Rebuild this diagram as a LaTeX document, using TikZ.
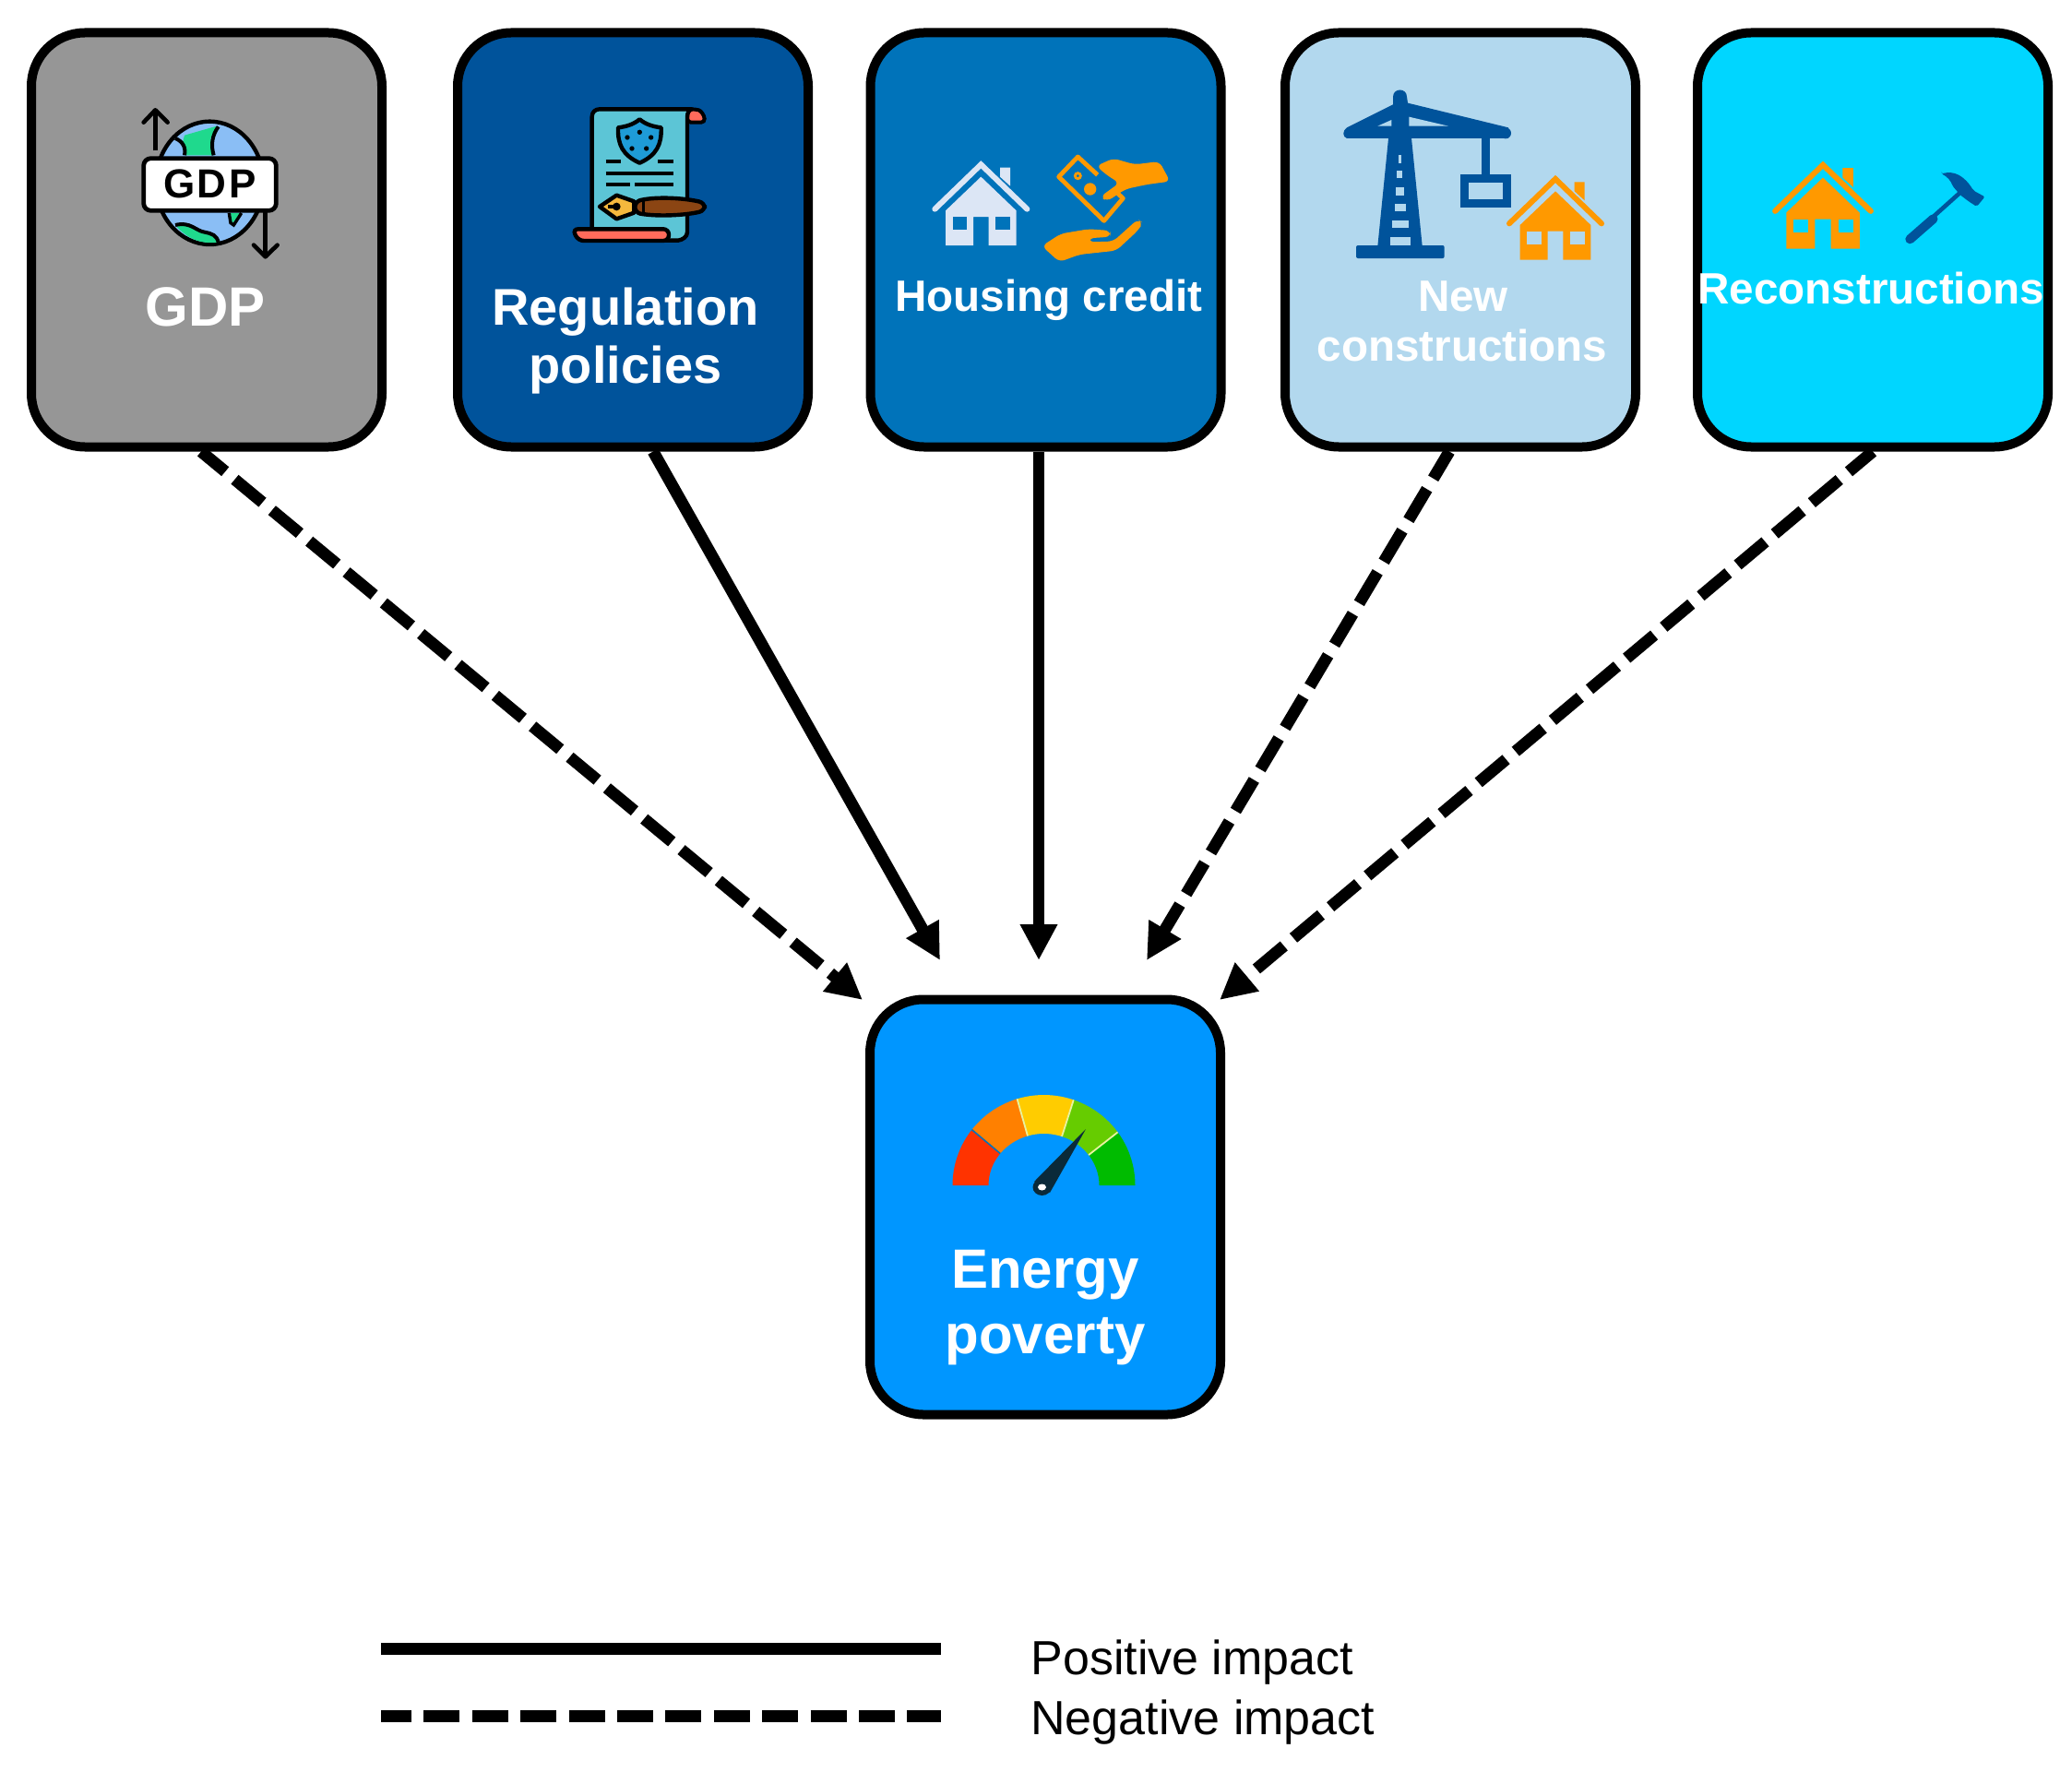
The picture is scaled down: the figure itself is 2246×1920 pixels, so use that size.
\documentclass[tikz,border=0pt]{standalone}
\usepackage{fontspec}
\setmainfont{Liberation Sans}
\usetikzlibrary{arrows.meta}
\definecolor{cgrey}{HTML}{969696}
\definecolor{cnavy}{HTML}{00539B}
\definecolor{cmid}{HTML}{0073BA}
\definecolor{clight}{HTML}{B2D8EE}
\definecolor{ccyan}{HTML}{00D6FF}
\definecolor{cbright}{HTML}{0096FF}
\definecolor{corange}{HTML}{FF9900}
\definecolor{cpale}{HTML}{DCE6F5}
\definecolor{cglobe}{HTML}{8ABEF5}
\definecolor{cland}{HTML}{1FD98D}
\definecolor{cteal}{HTML}{5CC5D6}
\definecolor{ccoral}{HTML}{FF6B5B}
\definecolor{cshield}{HTML}{1E9BD7}
\definecolor{cbrown}{HTML}{8B4513}
\definecolor{cnib}{HTML}{F5B83D}
\definecolor{cneedle}{HTML}{0A2A3A}
\definecolor{gred}{HTML}{FF3300}
\definecolor{gorange}{HTML}{FF8000}
\definecolor{gyellow}{HTML}{FFCC00}
\definecolor{glime}{HTML}{66CC00}
\definecolor{ggreen}{HTML}{00BB00}
\definecolor{gsep}{HTML}{E8F2A0}
\tikzset{
  box/.style={draw=black,line width=5pt,rounded corners=29pt,minimum width=190pt,minimum height=224.5pt,inner sep=0pt},
  lbl/.style={anchor=base,inner sep=0pt,text=white,font=\fontsize{#1}{#1}\selectfont\bfseries},
  legendlbl/.style={anchor=base west,inner sep=0pt,text=black,font=\fontsize{26}{26}\selectfont},
  poslink/.style={line width=6.4pt,-{Triangle[length=19.5pt,width=19pt]}},
  neglink/.style={poslink,dash pattern=on 19.5pt off 6.7pt,dash phase=2.5pt},
  zoomed/.style={x=0.16667pt,y=-0.16667pt},
}
% house in 3x local units, apex at the origin: #1 colour, #2 window colour
\newcommand{\drawhouse}[2]{%
  \fill[#1] (62,15) -- (95,15) -- (95,75) -- (62,45) -- cycle;
  \draw[#1,line width=3pt,line join=miter,line cap=round] (-150,150) -- (0,5) -- (150,150);
  \fill[#1] (-115,155) -- (0,45) -- (115,155) -- (115,268) -- (25,268) -- (25,175) -- (-25,175) -- (-25,268) -- (-115,268) -- cycle;
  \fill[#2] (-92,175) rectangle (-45,218);
  \fill[#2] (48,175) rectangle (95,218);
}
\newcommand{\gaugeseg}[3]{%
  \fill[#3] plot[domain=#1:#2,samples=14] ({1131.5+99*cos(\x)},{1285-98*sin(\x)})
    -- plot[domain=#2:#1,samples=14] ({1131.5+60*cos(\x)},{1285-56*sin(\x)}) -- cycle;
}
\begin{document}
\begin{tikzpicture}[x=0.5pt,y=-0.5pt]
\useasboundingbox (0,0) rectangle (2246,1920);
% boxes
\node[box,fill=cgrey]   (gdp)  at (224,260)    {};
\node[box,fill=cnavy]   (reg)  at (686,260)    {};
\node[box,fill=cmid]    (hou)  at (1133.5,260) {};
\node[box,fill=clight]  (new)  at (1583,260)   {};
\node[box,fill=ccyan]   (rec)  at (2030,260)   {};
\node[box,fill=cbright,minimum height=225pt] (ene) at (1133,1308.5) {};
% labels
\node[lbl=30]   (tgdp) at (223,353)  {GDP};
\node[lbl=28]   (treg) at (678,352)  {Regulation};
\node[lbl=28]   (tpol) at (678,415)  {policies};
\node[lbl=23.8] (thou) at (1137,337) {Housing credit};
\node[lbl=23.8] (tnew) at (1586,337) {New};
\node[lbl=23.8] (tcon) at (1585,391) {constructions};
\node[lbl=23.8] (trec) at (2028,329) {Reconstructions};
\node[lbl=30]   (tene) at (1133,1396) {Energy};
\node[lbl=30]   (tpov) at (1133,1467) {poverty};
% connectors
\coordinate (tipa) at (935,1084);
\coordinate (tipb) at (1019,1041);
\coordinate (tipc) at (1126,1041);
\coordinate (tipd) at (1243,1041);
\coordinate (tipe) at (1322,1084);
\draw[neglink] ([xshift=-3pt]gdp.south) -- (tipa);
\draw[poslink] ([xshift=11pt]reg.south) -- (tipb);
\draw[poslink] ([xshift=-3.75pt]hou.south) -- (tipc);
\draw[neglink] ([xshift=-6pt]new.south) -- (tipd);
\draw[neglink] (rec.south) -- (tipe);
% legend
\coordinate (lpa) at (413,1787);
\coordinate (lpb) at (1020,1787);
\coordinate (lna) at (413,1860);
\coordinate (lnb) at (1020,1860);
\draw[line width=6.5pt] (lpa) -- (lpb);
\draw[line width=6.5pt,dash pattern=on 19.5pt off 6.7pt,dash phase=3pt] (lna) -- (lnb);
\node[legendlbl] (tpos) at (1117,1815) {Positive impact};
\node[legendlbl] (tneg) at (1117,1880) {Negative impact};
% GDP icon
\begin{scope}[shift={(140,100)},zoomed]
  \draw[line width=2.3pt] (85,190) -- (85,60);
  \draw[line width=2.3pt,line cap=round,line join=round] (47,98) -- (85,58) -- (125,98);
  \draw[line width=2.3pt] (443,380) -- (443,530);
  \draw[line width=2.3pt,line cap=round,line join=round] (405,497) -- (443,535) -- (482,497);
  \draw[fill=cglobe,line width=2.2pt] (262,295) ellipse [x radius=175,y radius=200];
  \fill[cland] (180,140) -- (285,110) -- (265,150) -- (272,205) -- (185,205) -- (172,170) -- cycle;
  \draw[line width=2pt] (150,150) .. controls (175,160) and (185,180) .. (180,205);
  \draw[line width=2pt] (290,112) .. controls (270,140) and (265,170) .. (275,205);
  \fill[cland] (150,432) .. controls (200,420) and (215,450) .. (245,455) .. controls (270,460) and (285,465) .. (290,488) .. controls (240,495) and (190,480) .. (150,432) -- cycle;
  \draw[line width=2pt] (150,432) .. controls (200,420) and (215,450) .. (245,455) .. controls (270,460) and (285,465) .. (290,488);
  \fill[cland] (330,393) -- (362,393) -- (335,428) -- cycle;
  \draw[line width=1.7pt] (325,393) -- (330,425) -- (340,432) -- (365,393);
  \draw[black,fill=white,line width=2.4pt,rounded corners=4pt] (47,215) rectangle (478,385);
  \node[inner sep=0pt,font=\fontsize{22}{22}\selectfont\bfseries\addfontfeatures{LetterSpace=6}] (gdpicon) at (262,297) {GDP};
\end{scope}
% regulation icon
\begin{scope}[shift={(600,100)},zoomed]
  \draw[fill=ccoral,line width=2pt,rounded corners=2pt] (435,55) -- (460,55) .. controls (480,60) and (490,75) .. (492,98) -- (435,98) -- cycle;
  \draw[fill=cteal,line width=2.2pt,line join=round] (125,450) -- (125,80) .. controls (125,65) and (135,55) .. (150,55) -- (450,55) .. controls (440,58) and (435,68) .. (435,80) -- (435,455) .. controls (435,470) and (420,480) .. (405,482) -- (125,482) -- cycle;
  \draw[fill=ccoral,line width=2.2pt,rounded corners=3pt] (62,445) -- (375,445) -- (375,483) -- (80,483) -- cycle;
  \draw[fill=cshield,line width=2.2pt,line join=round] (280,88) .. controls (300,105) and (325,112) .. (350,115) .. controls (352,170) and (335,205) .. (280,230) .. controls (225,205) and (208,170) .. (210,115) .. controls (235,112) and (260,105) .. (280,88) -- cycle;
  \foreach \dx/\dy in {280/130,240/147,317/147,255/183,302/183} \fill (\dx,\dy) circle [radius=8];
  \draw[line width=2pt]
    (170,226) -- (218,226) (340,226) -- (390,226)
    (170,263) -- (390,263)
    (170,299) -- (248,299) (265,299) -- (390,299);
  \draw[fill=cbrown,line width=2.2pt,rounded corners=3pt] (265,355) .. controls (340,338) and (430,345) .. (492,360) -- (492,385) .. controls (430,400) and (340,405) .. (265,392) -- cycle;
  \draw[line width=1.5pt] (292,352) -- (292,396);
  \draw[fill=cnib,line width=2.2pt,line join=round] (150,372) -- (205,335) -- (262,355) -- (262,392) -- (205,412) -- cycle;
  \draw[line width=1.8pt] (178,372) -- (205,372);
  \fill (205,372) circle [radius=13];
\end{scope}
% housing credit icon
\begin{scope}[shift={(1000,150)},zoomed]
  \begin{scope}[shift={(190,80)}]
    \drawhouse{cpale}{cmid}
  \end{scope}
  \draw[corange,line width=2.4pt,line join=round] (505,60) -- (652,195) -- (590,268) -- (443,125) -- cycle;
  \draw[corange,line width=1.4pt] (505,122) circle [radius=9];
  \fill[corange] (545,165) circle [radius=20];
  \fill[cmid] (590,95) -- (640,150) -- (590,180) -- (560,130) -- cycle;
  \fill[corange,rounded corners=3pt] (565,90) -- (620,65) -- (690,85) -- (770,75) -- (805,140) -- (730,150) -- (660,165) -- (600,205) -- (578,190) -- (640,145) -- (600,120) -- cycle;
  \fill[corange,rounded corners=3pt] (388,350) -- (450,310) -- (540,295) -- (610,300) -- (612,320) -- (540,325) -- (540,337) -- (620,335) -- (700,263) -- (717,275) -- (700,300) -- (630,365) -- (510,378) -- (445,402) -- cycle;
\end{scope}
% new constructions icon
\begin{scope}[shift={(1440,85)},zoomed]
  \fill[cnavy] (210,60) .. controls (210,30) and (255,30) .. (255,60) -- (258,80) -- (585,160) -- (585,195) -- (270,195) -- (305,545) -- (160,545) -- (195,195) -- (60,195) .. controls (45,190) and (45,170) .. (60,160) -- (210,85) -- cycle;
  \fill[clight] (160,155) -- (205,155) -- (205,135) -- cycle;
  \fill[clight] (262,125) -- (262,155) -- (390,155) -- cycle;
  \fill[clight] (229,250) rectangle (236,275);
  \fill[clight] (223,300) rectangle (240,325);
  \fill[clight] (220,355) rectangle (245,380);
  \fill[clight] (215,408) rectangle (252,432);
  \fill[clight] (207,462) rectangle (260,487);
  \fill[clight] (200,517) rectangle (267,542);
  \fill[cnavy,rounded corners=1pt] (90,543) rectangle (377,585);
  \fill[cnavy] (576,178) circle [radius=18];
  \fill[cnavy] (497,190) rectangle (525,315);
  \fill[cnavy] (430,313) rectangle (593,420);
  \fill[clight] (457,340) rectangle (568,393);
  \begin{scope}[shift={(738,322)}]
    \drawhouse{corange}{clight}
  \end{scope}
\end{scope}
% reconstructions icon: house
\begin{scope}[shift={(1976,177)},x=0.17293pt,y=-0.17293pt]
  \drawhouse{corange}{ccyan}
\end{scope}
% reconstructions icon: hammer
\begin{scope}[shift={(1700,0)},x=0.175pt,y=-0.16667pt]
  \draw[cnavy,line width=2.3pt] (1130,705) -- (1215,625);
  \draw[cnavy,line width=5pt,line cap=round] (1058,778) -- (1130,712);
  \fill[cnavy,rounded corners=1pt] (1155,565) .. controls (1195,555) and (1225,570) .. (1255,620) -- (1290,640) -- (1265,672) -- (1240,655) -- (1215,635) -- (1190,605) .. controls (1185,590) and (1175,575) .. (1155,565) -- cycle;
\end{scope}
% gauge
\gaugeseg{180}{142}{gred}
\gaugeseg{142}{107}{gorange}
\gaugeseg{107}{71}{gyellow}
\gaugeseg{71}{36}{glime}
\gaugeseg{36}{0}{ggreen}
\draw[cmid,line width=0.8pt] ({1131.5+60*cos(142)},{1285-56*sin(142)}) -- ({1131.5+99*cos(142)},{1285-98*sin(142)});
\draw[gsep,line width=0.9pt] ({1131.5+60*cos(107)},{1285-56*sin(107)}) -- ({1131.5+99*cos(107)},{1285-98*sin(107)});
\draw[gsep,line width=0.9pt] ({1131.5+60*cos(71)},{1285-56*sin(71)}) -- ({1131.5+99*cos(71)},{1285-98*sin(71)});
\draw[gsep,line width=0.9pt] ({1131.5+60*cos(36)},{1285-56*sin(36)}) -- ({1131.5+99*cos(36)},{1285-98*sin(36)});
\fill[cneedle] (1177,1224) -- (1138,1293) -- (1121,1281) -- cycle;
\fill[cneedle] (1129.5,1287) ellipse [x radius=10,y radius=9];
\fill[white] (1129.5,1287) ellipse [x radius=4.5,y radius=3.5];
\end{tikzpicture}
\end{document}
